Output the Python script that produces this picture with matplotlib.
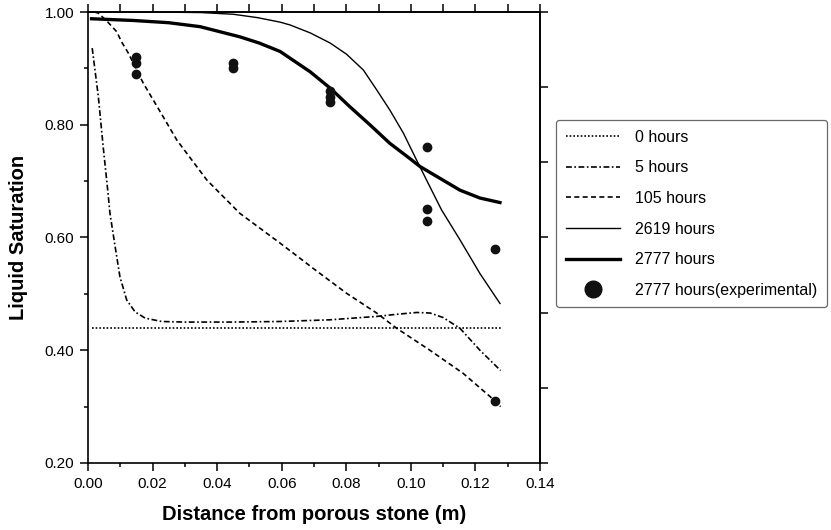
import numpy as np
import matplotlib
matplotlib.use('Agg')
import matplotlib.pyplot as plt
from matplotlib.ticker import MultipleLocator, NullFormatter

plt.rcParams['font.family'] = ['Liberation Sans', 'DejaVu Sans']

# saturation profiles
x_0h = [0.0011, 0.128]
y_0h = [0.44, 0.44]

x_5h = [0.0013, 0.0032, 0.0047, 0.0060, 0.0068, 0.0084, 0.0099, 0.0120, 0.0146, 0.0177,
        0.0228, 0.030, 0.045, 0.0595, 0.075, 0.0894, 0.0960, 0.1018, 0.1060, 0.1100,
        0.1152, 0.1214, 0.1278]
y_5h = [0.936, 0.850, 0.761, 0.690, 0.643, 0.584, 0.530, 0.489, 0.468, 0.457,
        0.451, 0.450, 0.450, 0.451, 0.454, 0.460, 0.464, 0.467, 0.466, 0.458,
        0.439, 0.400, 0.364]

x_105h = [0.0020, 0.0032, 0.0060, 0.0089, 0.0104, 0.0125, 0.0171, 0.0233, 0.0275, 0.0368,
          0.047, 0.0595, 0.0657, 0.0698, 0.0801, 0.0894, 0.0956, 0.1059, 0.1162, 0.1245,
          0.1278]
y_105h = [1.000, 0.998, 0.983, 0.965, 0.947, 0.927, 0.874, 0.814, 0.773, 0.702,
          0.643, 0.590, 0.563, 0.545, 0.501, 0.466, 0.439, 0.400, 0.359, 0.318,
          0.300]

x_2619h = [0.0011, 0.020, 0.035, 0.045, 0.0525, 0.0595, 0.0626, 0.0688, 0.0750, 0.0801,
           0.0853, 0.0894, 0.0935, 0.0977, 0.1018, 0.1059, 0.1095, 0.1152, 0.1214, 0.1276]
y_2619h = [1.000, 1.000, 0.999, 0.996, 0.990, 0.982, 0.977, 0.963, 0.945, 0.925,
           0.897, 0.862, 0.826, 0.785, 0.737, 0.690, 0.649, 0.596, 0.536, 0.483]

x_2777h = [0.0011, 0.014, 0.0250, 0.0347, 0.047, 0.0530, 0.0595, 0.0626, 0.0688, 0.0750,
           0.0811, 0.0873, 0.0935, 0.0997, 0.1028, 0.1090, 0.1152, 0.1214, 0.1276]
y_2777h = [0.988, 0.985, 0.981, 0.974, 0.956, 0.945, 0.930, 0.918, 0.894, 0.865,
           0.832, 0.800, 0.767, 0.740, 0.726, 0.705, 0.684, 0.670, 0.662]

x_exp = [0.015, 0.015, 0.015, 0.045, 0.045, 0.075, 0.075, 0.075, 0.105, 0.105, 0.105, 0.126, 0.126]
y_exp = [0.92, 0.91, 0.89, 0.91, 0.90, 0.86, 0.85, 0.84, 0.76, 0.65, 0.63, 0.58, 0.31]

fig = plt.figure(figsize=(8.31, 5.30), dpi=100)
ax = fig.add_axes([88/831, 67/530, 452/831, 451/530])

ax.plot(x_0h, y_0h, color='k', lw=1.2, ls=(0, (1, 1.2)), label='0 hours')
ax.plot(x_5h, y_5h, color='k', lw=1.2, ls=(0, (3.5, 1.5, 1, 1.5)), label='5 hours')
ax.plot(x_105h, y_105h, color='k', lw=1.2, ls=(0, (3, 2)), label='105 hours')
ax.plot(x_2619h, y_2619h, color='k', lw=1.0, label='2619 hours')
ax.plot(x_2777h, y_2777h, color='k', lw=2.4, label='2777 hours')
ax.plot(x_exp, y_exp, 'o', color='#111111', ms=6, label='2777 hours(experimental)')

ax.set_xlim(0, 0.14)
ax.set_ylim(0.2, 1.0)
ax.xaxis.set_major_locator(MultipleLocator(0.02))
ax.xaxis.set_minor_locator(MultipleLocator(0.01))
ax.yaxis.set_major_locator(MultipleLocator(0.2))
ax.yaxis.set_minor_locator(MultipleLocator(0.1))
ax.xaxis.set_major_formatter(lambda v, p: '%.2f' % v)
ax.yaxis.set_major_formatter(lambda v, p: '%.2f' % v)
ax.tick_params(which='major', direction='out', length=6, width=1.1, labelsize=11, pad=4, color='k')
ax.tick_params(which='minor', direction='out', length=3, width=1.1)
for s in ax.spines.values():
    s.set_linewidth(1.2)

top = ax.secondary_xaxis('top')
top.set_xticks(np.arange(0, 0.1401, 0.01))
top.xaxis.set_major_formatter(NullFormatter())
top.tick_params(direction='out', length=5.5, width=1.1)
top.spines['top'].set_linewidth(1.2)

right = ax.secondary_yaxis('right')
right.set_yticks(np.linspace(0.2, 1.0, 7))
right.yaxis.set_major_formatter(NullFormatter())
right.tick_params(direction='out', length=5.5, width=1.1)
right.spines['right'].set_linewidth(1.2)

ax.set_xlabel('Distance from porous stone (m)', fontsize=14.5, fontweight='bold', labelpad=10)
ax.set_ylabel('Liquid Saturation', fontsize=14.5, fontweight='bold', labelpad=12)

leg = fig.legend(*ax.get_legend_handles_labels(), loc='upper left', bbox_to_anchor=(556/831, 1 - 120/530),
                 fontsize=11.5, frameon=True, fancybox=True, handlelength=3.4, handletextpad=0.95,
                 labelspacing=0.98, borderpad=0.6, markerscale=2.0, borderaxespad=0)
leg.get_frame().set_edgecolor('#444444')
leg.get_frame().set_linewidth(0.9)

plt.savefig('out.png', dpi=100)
